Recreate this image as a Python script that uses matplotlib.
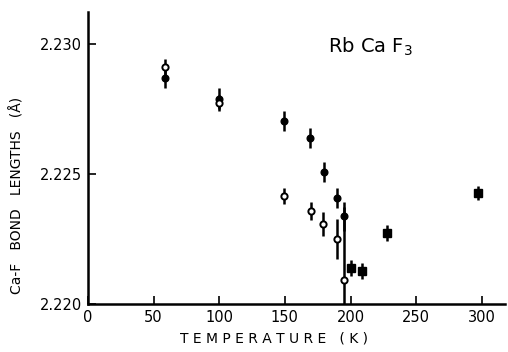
import numpy as np
import matplotlib
matplotlib.use("Agg")
import matplotlib.pyplot as plt

# filled circles
fill_T = [59, 100, 149, 169, 180, 190, 195]
fill_R = [2.22869, 2.22790, 2.22704, 2.22638, 2.22508, 2.22408, 2.22338]
fill_E = [0.00040, 0.00040, 0.00040, 0.00038, 0.00040, 0.00040, 0.00055]

# open circles
open_T = [59, 100, 149, 170, 179, 190, 195]
open_R = [2.22912, 2.22773, 2.22415, 2.22358, 2.22308, 2.22250, 2.22092]
open_E = [0.00030, 0.00030, 0.00030, 0.00035, 0.00048, 0.00078, 0.00280]

# filled squares
sq_T = [200, 209, 228, 297]
sq_R = [2.22138, 2.22127, 2.22273, 2.22427]
sq_E = [0.00030, 0.00030, 0.00030, 0.00027]

xticks = [0, 50, 100, 150, 200, 250, 300]
yticks = [2.220, 2.225, 2.230]

plt.rcParams['font.family'] = ['DejaVu Sans']
fig = plt.figure(figsize=(5.08, 3.52), dpi=100)
ax = fig.add_axes([0.173, 0.136, 0.821, 0.830])

ax.errorbar(fill_T, fill_R, yerr=fill_E, fmt='o', color='black', ms=4.8,
            elinewidth=1.8, capsize=0, zorder=3)
ax.errorbar(open_T, open_R, yerr=open_E, fmt='o', color='black', mfc='white',
            mec='black', mew=1.4, ms=4.5, elinewidth=1.8, capsize=0, zorder=4)
ax.errorbar(sq_T, sq_R, yerr=sq_E, fmt='s', color='black', ms=5.5,
            elinewidth=1.8, capsize=0, zorder=3)

ax.set_xlim(0, 317.6)
ax.set_ylim(2.220, 2.23123)
ax.set_xticks(xticks)
ax.set_xticklabels([str(t) for t in xticks])
ax.set_yticks(yticks)
ax.set_yticklabels(["%.3f" % t for t in yticks])

for s in ['top', 'right']:
    ax.spines[s].set_visible(False)
for s in ['left', 'bottom']:
    ax.spines[s].set_linewidth(1.8)
ax.tick_params(direction='in', length=6, width=1.2, labelsize=10.5, pad=4)

ax.set_xlabel("T E M P E R A T U R E   ( K )", fontsize=10)
ax.xaxis.set_label_coords(0.446, -0.095)
ax.set_ylabel("Ca-F   BOND   LENGTHS   (Å)", fontsize=10)
ax.yaxis.set_label_coords(-0.151, 0.373)

ax.text(0.575, 0.88, "Rb Ca F$_3$", transform=ax.transAxes, fontsize=14,
        ha='left', va='center')

fig.savefig("out.png", dpi=100)
